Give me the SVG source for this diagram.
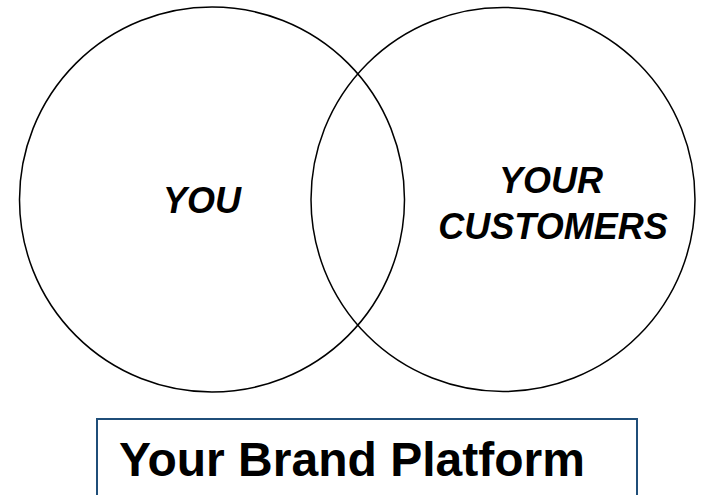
<svg xmlns="http://www.w3.org/2000/svg" width="702" height="495" viewBox="0 0 702 495">
  <style>
    .ring { fill: none; stroke: #000; stroke-width: 1.5; }
    .label { font-family: "Liberation Sans", Arial, sans-serif; font-weight: bold; font-style: italic; font-size: 36px; fill: #000; text-anchor: middle; }
    .frame { fill: #fff; stroke: #1f4e79; stroke-width: 2; }
    .title { font-family: "Liberation Sans", Arial, sans-serif; font-weight: bold; font-size: 48px; fill: #000; }
  </style>
  <rect width="702" height="495" fill="#fff"/>
  <g id="you">
    <circle class="ring" cx="212" cy="199.5" r="192.5"/>
    <text class="label" x="202" y="213">YOU</text>
  </g>
  <g id="customers">
    <circle class="ring" cx="503" cy="199.5" r="192"/>
    <text class="label" x="551" y="193">YOUR</text>
    <text class="label" x="553" y="239">CUSTOMERS</text>
  </g>
  <g id="connectors"></g>
  <g id="brand-platform">
    <rect class="frame" x="97" y="419" width="540" height="90"/>
    <text class="title" x="119" y="476">Your Brand Platform</text>
  </g>
</svg>
